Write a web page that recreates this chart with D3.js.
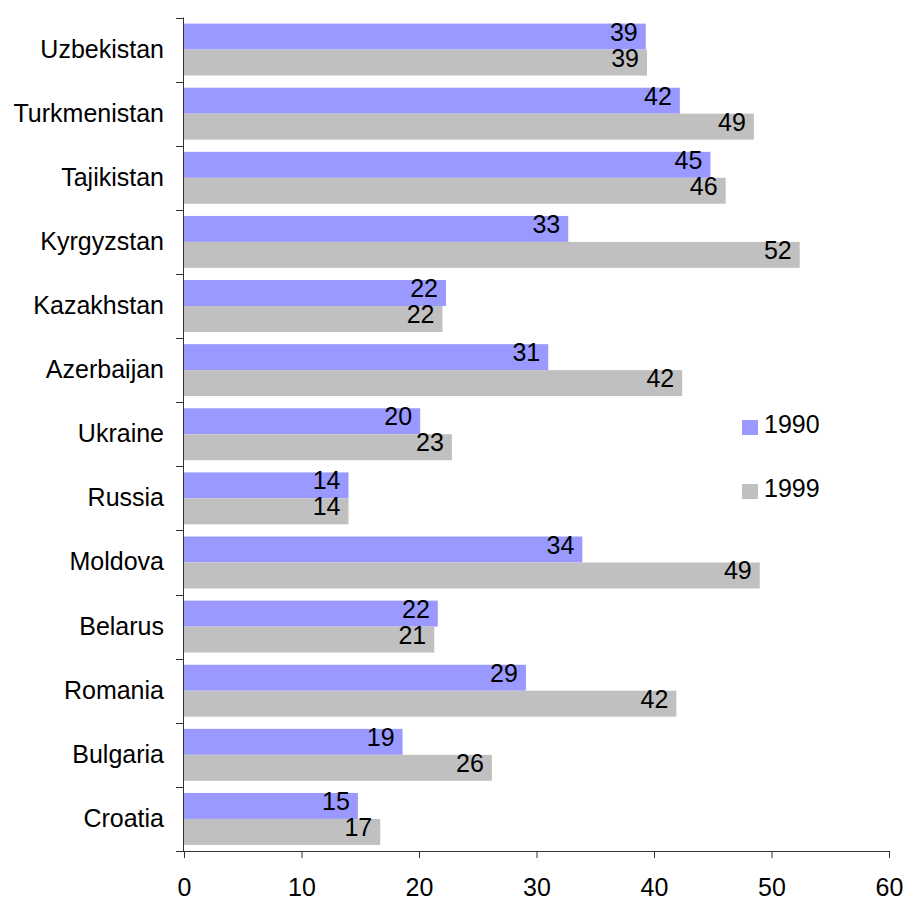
<!DOCTYPE html>
<html>
<head>
<meta charset="utf-8">
<script src="https://cdn.jsdelivr.net/npm/d3@7"></script>
<style>
  html, body { margin: 0; padding: 0; background: #fff; }
  svg { display: block; font-family: "Liberation Sans", Arial, Helvetica, sans-serif; }
</style>
</head>
<body>
<svg id="chart" width="908" height="901"></svg>
<script>
const categories = ["Uzbekistan", "Turkmenistan", "Tajikistan", "Kyrgyzstan", "Kazakhstan", "Azerbaijan", "Ukraine", "Russia", "Moldova", "Belarus", "Romania", "Bulgaria", "Croatia"];
const values1990 = [39.3, 42.2, 44.8, 32.7, 22.3, 31.0, 20.1, 14.0, 33.9, 21.6, 29.1, 18.6, 14.8];
const values1999 = [39.4, 48.5, 46.1, 52.4, 22.0, 42.4, 22.8, 14.0, 49.0, 21.3, 41.9, 26.2, 16.7];
const labels1990 = ["39", "42", "45", "33", "22", "31", "20", "14", "34", "22", "29", "19", "15"];
const labels1999 = ["39", "49", "46", "52", "22", "42", "23", "14", "49", "21", "42", "26", "17"];
const seriesNames = ["1990", "1999"];
const seriesColors = ["#9999FF", "#C0C0C0"];
const xTicks = [0, 10, 20, 30, 40, 50, 60];

const svg = d3.select("#chart");
const plotLeft = 184, plotRight = 889, plotTop = 17.5, plotBottom = 851;
const fontSize = 25;

const x = d3.scaleLinear().domain([0, 60]).range([plotLeft, plotRight]);
const y = d3.scaleBand().domain(categories).range([plotTop, plotBottom]).paddingInner(0.19).paddingOuter(0.095);
const sub = d3.scaleBand().domain(seriesNames).range([0, y.bandwidth()]).padding(0);

const data = categories.map((c, i) => ({
  cat: c,
  vals: [
    { s: "1990", v: values1990[i], l: labels1990[i] },
    { s: "1999", v: values1999[i], l: labels1999[i] }
  ]
}));

const groups = svg.append("g").selectAll("g").data(data).join("g")
  .attr("transform", d => `translate(0,${y(d.cat)})`);

groups.selectAll("rect").data(d => d.vals).join("rect")
  .attr("x", x(0))
  .attr("y", d => sub(d.s))
  .attr("width", d => x(d.v) - x(0))
  .attr("height", sub.bandwidth())
  .attr("fill", d => seriesColors[seriesNames.indexOf(d.s)]);

groups.selectAll("text").data(d => d.vals).join("text")
  .attr("x", d => x(d.v) - 8)
  .attr("y", d => sub(d.s) + 17)
  .attr("text-anchor", "end")
  .attr("font-size", fontSize)
  .attr("fill", "#000")
  .text(d => d.l);

// Axes
const axisColor = "#333";
const xAxis = d3.axisBottom(x).tickValues(xTicks).tickSize(7).tickPadding(0).tickFormat(d3.format("d"));
const gx = svg.append("g").attr("transform", `translate(0,${plotBottom})`).call(xAxis);
gx.select(".domain").attr("stroke", axisColor).attr("d", `M${plotLeft},0.5H${plotRight}`);
gx.selectAll(".tick line").attr("stroke", axisColor);
gx.selectAll(".tick text").attr("font-size", fontSize).attr("fill", "#000")
  .attr("font-family", "'Liberation Sans', Arial, sans-serif")
  .attr("dy", null).attr("y", 45);

svg.append("line")
  .attr("x1", plotLeft - 0.5).attr("x2", plotLeft - 0.5)
  .attr("y1", plotTop).attr("y2", plotBottom + 1)
  .attr("stroke", axisColor);

const boundaries = d3.range(categories.length + 1).map(i => plotTop + i * y.step());
svg.append("g").selectAll("line").data(boundaries).join("line")
  .attr("x1", plotLeft - 8).attr("x2", plotLeft)
  .attr("y1", d => Math.round(d) + 0.5).attr("y2", d => Math.round(d) + 0.5)
  .attr("stroke", axisColor);

svg.append("g").selectAll("text").data(categories).join("text")
  .attr("x", 164)
  .attr("y", d => y(d) + y.bandwidth() / 2 + 8)
  .attr("text-anchor", "end")
  .attr("font-size", fontSize)
  .attr("fill", "#000")
  .text(d => d);

const legend = svg.append("g");
const legendY = [420, 484];
seriesNames.forEach((s, i) => {
  legend.append("rect")
    .attr("x", 742).attr("y", legendY[i])
    .attr("width", 16).attr("height", 15)
    .attr("fill", seriesColors[i]);
  legend.append("text")
    .attr("x", 764).attr("y", legendY[i] + 13)
    .attr("font-size", fontSize)
    .attr("fill", "#000")
    .text(s);
});
</script>
</body>
</html>
